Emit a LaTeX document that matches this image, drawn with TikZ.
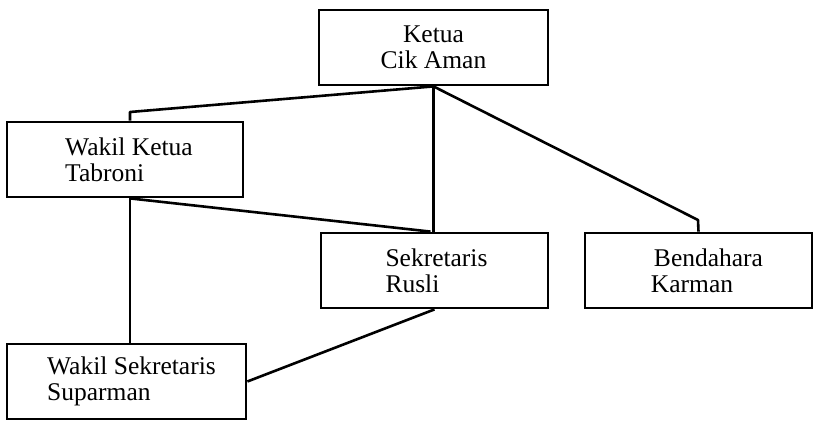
\documentclass[tikz,border=0pt]{standalone}
\usepackage{fontspec}
\setmainfont{Liberation Serif}
\usetikzlibrary{calc}
\newcommand{\indentby}[1]{\hspace*{#1}}
\begin{document}
\begin{tikzpicture}[x=1pt, y=-1pt,
  orgbox/.style={draw, line width=2.8pt, rectangle, minimum height=75pt,
    align=left, inner sep=0pt,
    font=\fontsize{25.5pt}{26pt}\selectfont},
  link/.style={line width=2.6pt, line join=round}]
  \useasboundingbox[fill=white] (0,0) rectangle (815,422);

  % boxes of the organisation chart
  \node[orgbox, minimum width=229pt, align=center] (ketua) at (433.5,47.5) {Ketua\\Cik Aman};
  \node[orgbox, minimum width=236pt] (wketua) at (125,159.5) {\indentby{8pt}Wakil Ketua\\\indentby{8pt}Tabroni};
  \node[orgbox, minimum width=227pt] (sekr) at (434.5,270.5) {\indentby{4pt}Sekretaris\\\indentby{4pt}Rusli};
  \node[orgbox, minimum width=227pt] (bend) at (698.5,270.5) {\indentby{20pt}Bendahara\\\indentby{17pt}Karman};
  \node[orgbox, minimum width=239pt] (wsekr) at (126.5,381.5) {\indentby{10pt}Wakil Sekretaris\\\indentby{10pt}Suparman};

  % bend points of the connectors
  \coordinate (kbend) at (130,112);
  \coordinate (bbend) at (698,220);
  \coordinate (vcol) at (130,0);

  % connectors
  \draw[link] (ketua.south) -- (kbend) -- (kbend |- wketua.north);
  \draw[link] (ketua.south) -- (ketua.south |- sekr.north);
  \draw[link] (ketua.south) -- (bbend) -- (bend.north);
  \draw[link] (vcol |- wketua.south) -- ($(sekr.north)+(-4,0)$);
  \draw[link] (vcol |- wketua.south) -- (vcol |- wsekr.north);
  \draw[link] (sekr.south) -- (wsekr.east);
\end{tikzpicture}
\end{document}
